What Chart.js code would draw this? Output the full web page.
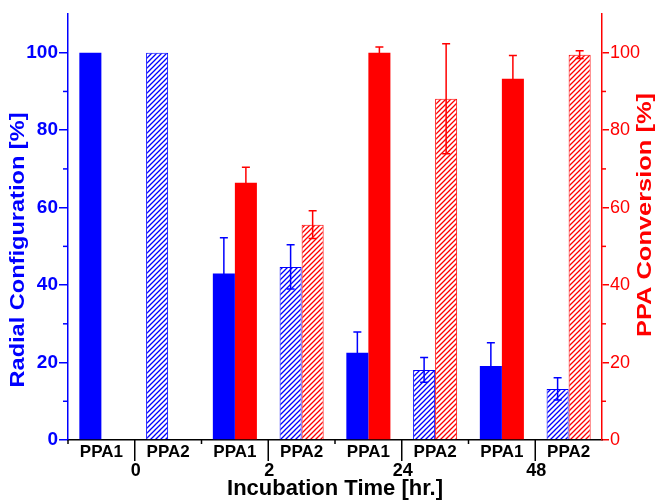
<!DOCTYPE html>
<html>
<head>
<meta charset="utf-8">
<script src="https://cdn.jsdelivr.net/npm/chart.js@4.4.0/dist/chart.umd.min.js"></script>
<style>
  html, body { margin: 0; padding: 0; background: #fff; }
  #wrap { width: 655px; height: 500px; }
</style>
</head>
<body>
<div id="wrap"><canvas id="grafico"></canvas></div>
<script>
// dados
const categorias = ['PPA1', 'PPA2', 'PPA1', 'PPA2', 'PPA1', 'PPA2', 'PPA1', 'PPA2'];
const tempos = ['0', '2', '24', '48'];
const radial = [100, 100, 43, 44.7, 22.5, 18.1, 19.1, 13.2];
const radialErro = [0, 0, 9.2, 5.7, 5.4, 3.2, 6, 2.9];
const conversao = [null, null, 66.4, 55.6, 100, 88.1, 93.3, 99.5];
const conversaoErro = [0, 0, 4, 3.6, 1.5, 14.2, 6, 1];
const hachurado = [false, true, false, true, false, true, false, true];
const ticksMenores = [10, 30, 50, 70, 90];

const AZUL = '#0000ff';
const VERMELHO = '#ff0000';
const FONTE = '"Liberation Sans", Arial, sans-serif';

// padrão de listras diagonais
function criarHachura(cor) {
    const c = document.createElement('canvas');
    c.width = 5; c.height = 5;
    const g = c.getContext('2d');
    g.fillStyle = '#fff';
    g.fillRect(0, 0, 5, 5);
    g.strokeStyle = cor;
    g.lineWidth = 1.3;
    g.beginPath();
    g.moveTo(-1, 6); g.lineTo(6, -1);
    g.moveTo(-1, 1); g.lineTo(1, -1);
    g.moveTo(4, 6); g.lineTo(6, 4);
    g.stroke();
    return document.getElementById('grafico').getContext('2d').createPattern(c, 'repeat');
}

const hachAzul = criarHachura(AZUL);
const hachVermelho = criarHachura(VERMELHO);

// texto vertical esticado até um comprimento dado
function textoVertical(ctx, texto, cx, cy, comprimento, cor) {
    ctx.save();
    ctx.font = 'bold 20px ' + FONTE;
    ctx.fillStyle = cor;
    ctx.textAlign = 'center';
    ctx.textBaseline = 'middle';
    const w = ctx.measureText(texto).width;
    ctx.translate(cx, cy);
    ctx.rotate(-Math.PI / 2);
    ctx.scale(comprimento / w, 1);
    ctx.fillText(texto, 0, 0);
    ctx.restore();
}

// barras de erro, ticks do eixo x e títulos
const extras = {
    id: 'extras',
    afterDatasetsDraw(chart) {
        const ctx = chart.ctx;
        const erros = [radialErro, conversaoErro];
        const valores = [radial, conversao];
        const cores = [AZUL, VERMELHO];
        ctx.save();
        [0, 1].forEach(d => {
            const meta = chart.getDatasetMeta(d);
            const escala = chart.scales[chart.data.datasets[d].yAxisID];
            meta.data.forEach((bar, i) => {
                const v = valores[d][i], e = erros[d][i];
                if (v == null || !e) return;
                const yTopo = escala.getPixelForValue(v + e);
                const yBase = escala.getPixelForValue(v - e);
                ctx.strokeStyle = cores[d];
                ctx.lineWidth = 1.5;
                ctx.beginPath();
                ctx.moveTo(bar.x, yTopo); ctx.lineTo(bar.x, yBase);
                ctx.moveTo(bar.x - 4, yTopo); ctx.lineTo(bar.x + 4, yTopo);
                ctx.moveTo(bar.x - 4, yBase); ctx.lineTo(bar.x + 4, yBase);
                ctx.stroke();
            });
        });
        ctx.restore();
    },
    afterDraw(chart) {
        const ctx = chart.ctx;
        const area = chart.chartArea;
        const passo = (area.right - area.left) / categorias.length;
        ctx.save();

        // ticks menores dos eixos y
        ctx.lineWidth = 1.5;
        ctx.strokeStyle = AZUL;
        ticksMenores.forEach(v => {
            const py = chart.scales.y.getPixelForValue(v);
            ctx.beginPath(); ctx.moveTo(area.left - 5, py); ctx.lineTo(area.left, py); ctx.stroke();
        });
        ctx.strokeStyle = VERMELHO;
        ticksMenores.forEach(v => {
            const py = chart.scales.y2.getPixelForValue(v);
            ctx.beginPath(); ctx.moveTo(area.right, py); ctx.lineTo(area.right + 4, py); ctx.stroke();
        });

        // ticks do eixo x
        ctx.strokeStyle = '#000';
        for (let k = 0; k < categorias.length; k++) {
            const px = area.left + k * passo;
            ctx.beginPath();
            ctx.moveTo(px, area.bottom);
            ctx.lineTo(px, area.bottom + (k % 2 === 1 ? 21 : 4));
            ctx.stroke();
        }
        ctx.fillStyle = '#000';
        ctx.font = 'bold 18px ' + FONTE;
        ctx.textAlign = 'center';
        ctx.textBaseline = 'middle';
        tempos.forEach((t, g) => {
            const px = area.left + (2 * g + 1) * passo;
            ctx.fillText(t, px + 1, area.bottom + 31);
        });
        ctx.font = 'bold 22px ' + FONTE;
        ctx.fillText('Incubation Time [hr.]', (area.left + area.right) / 2, area.bottom + 49);
        ctx.restore();

        textoVertical(ctx, 'Radial Configuration [%]', 18, 250, 275, AZUL);
        textoVertical(ctx, 'PPA Conversion [%]', 645, 215, 244, VERMELHO);
    }
};

function rotuloY(v) {
    return (v % 20 === 0 && v <= 100) ? v : '';
}

function corTick(cor) {
    return c => (c.tick && c.tick.value % 20 === 0 && c.tick.value <= 100) ? cor : 'rgba(0,0,0,0)';
}

new Chart(document.getElementById('grafico'), {
    type: 'bar',
    data: {
        labels: categorias,
        datasets: [
            {
                label: 'Radial Configuration',
                data: radial,
                yAxisID: 'y',
                backgroundColor: hachurado.map(h => h ? hachAzul : AZUL),
                borderColor: AZUL,
                borderWidth: hachurado.map(h => h ? 1 : 0),
                categoryPercentage: 0.66,
                barPercentage: 1.0
            },
            {
                label: 'PPA Conversion',
                data: conversao,
                yAxisID: 'y2',
                backgroundColor: hachurado.map(h => h ? hachVermelho : VERMELHO),
                borderColor: VERMELHO,
                borderWidth: hachurado.map(h => h ? 1 : 0),
                categoryPercentage: 0.66,
                barPercentage: 1.0
            }
        ]
    },
    options: {
        responsive: true,
        maintainAspectRatio: false,
        animation: false,
        layout: { padding: { top: 14 } },
        plugins: { legend: { display: false }, tooltip: { enabled: false } },
        scales: {
            x: {
                grid: { display: true, drawOnChartArea: false, drawTicks: false },
                border: { display: true, color: '#000', width: 1.5 },
                ticks: { color: '#000', font: { family: FONTE, size: 17, weight: 'bold' }, padding: 2, maxRotation: 0 },
                afterFit(s) { s.height = 60; }
            },
            y: {
                position: 'left',
                min: 0, max: 110,
                grid: { drawOnChartArea: false, drawTicks: true, tickLength: 9, color: corTick(AZUL), lineWidth: 1.5 },
                border: { display: true, color: AZUL, width: 1.5 },
                ticks: { stepSize: 10, autoSkip: false, color: AZUL, padding: 1, font: { family: FONTE, size: 19, weight: 'bold' }, callback: rotuloY },
                afterFit(s) { s.width = 68; }
            },
            y2: {
                position: 'right',
                min: 0, max: 110,
                grid: { drawOnChartArea: false, drawTicks: true, tickLength: 7, color: corTick(VERMELHO), lineWidth: 1.5 },
                border: { display: true, color: VERMELHO, width: 1.5 },
                ticks: { stepSize: 10, autoSkip: false, color: VERMELHO, padding: 1, font: { family: FONTE, size: 18 }, callback: rotuloY },
                afterFit(s) { s.width = 53; }
            }
        }
    },
    plugins: [extras]
});
</script>
</body>
</html>
